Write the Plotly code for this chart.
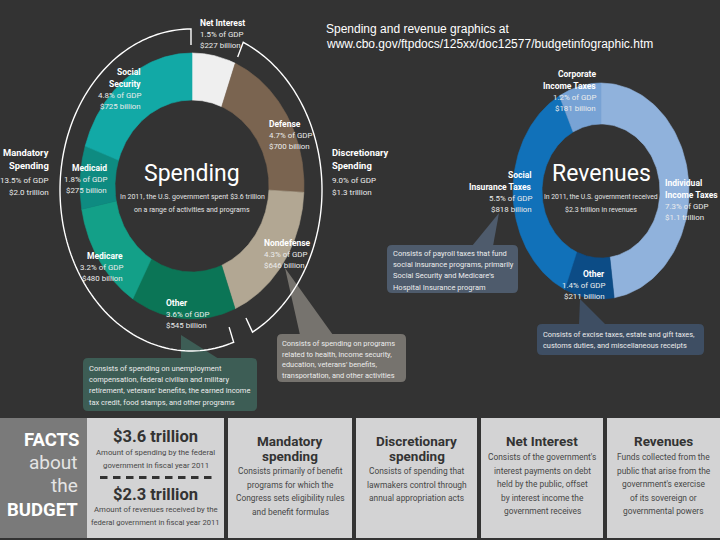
import numpy as np
import plotly.graph_objects as go

# ---------------- data ----------------
spend_labels = ["Net Interest", "Defense", "Nondefense", "Other", "Medicare", "Medicaid", "Social Security"]
spend_values = [227, 700, 646, 545, 480, 275, 725]          # $ billions, FY2011
spend_gdp = [1.5, 4.7, 4.3, 3.6, 3.2, 1.8, 4.8]             # % of GDP
spend_group = ["Net Interest", "Discretionary", "Discretionary", "Mandatory", "Mandatory", "Mandatory", "Mandatory"]

group_labels = ["Mandatory", "Discretionary"]
group_gdp = [13.5, 9.0]

rev_labels = ["Individual Income Taxes", "Other", "Social Insurance Taxes", "Corporate Income Taxes"]
rev_values = [1100, 211, 818, 181]                           # $ billions, FY2011
rev_gdp = [7.3, 1.4, 5.5, 1.2]

# ---------------- styles ----------------
BG = "#333333"
NARROW = "Roboto, Liberation Sans, Arial, sans-serif"
SANS = "Liberation Sans, Arial, Helvetica, sans-serif"
spend_colors = ["#efefef", "#7a6450", "#b2a793", "#0b7556", "#13a088", "#0e8b81", "#12a9a6"]
rev_colors = ["#90b2dc", "#0c4c86", "#1171b9", "#78a3d5"]

fig = go.Figure()


def money(v):
    return f"${v / 1000:.1f} trillion" if v >= 1000 else f"${v:,} billion"


def arc(cx, cy, rx, ry, t1, t2, n=90):
    t = np.radians(np.linspace(t1, t2, n))
    return cx + rx * np.sin(t), cy - ry * np.cos(t)


def add_donut(labels, values, gdp, colors, cx, cy, rxo, ryo, rxi, ryi):
    total = float(sum(values))
    cum = np.concatenate([[0.0], np.cumsum(values)]) / total * 360.0
    for i, (lab, v, g, c) in enumerate(zip(labels, values, gdp, colors)):
        xo, yo = arc(cx, cy, rxo, ryo, cum[i], cum[i + 1])
        xi, yi = arc(cx, cy, rxi, ryi, cum[i + 1], cum[i])
        x = np.concatenate([xo, xi, xo[:1]])
        y = np.concatenate([yo, yi, yo[:1]])
        fig.add_trace(go.Scatter(
            x=x, y=y, mode="lines", fill="toself", fillcolor=c,
            line=dict(color=c, width=0.6), hoveron="fills",
            text=f"{lab}: {money(v)} ({g}% of GDP)", hoverinfo="text",
            name=lab, showlegend=False))
    return cum


def txt(x, y, s, size, color="#ffffff", bold=False, anchor="left", family=NARROW):
    fig.add_annotation(x=x, y=y, xref="x", yref="y",
                       text=f"<b>{s}</b>" if bold else s, showarrow=False,
                       xanchor=anchor, yanchor="middle", borderpad=0,
                       font=dict(size=size, color=color, family=family))


def block(x, y0, title_lines, value_lines, anchor, tsize=8.5, vsize=7.9, step=11):
    y = y0
    for t in title_lines:
        txt(x, y, t, tsize, bold=True, anchor=anchor)
        y += step + 0.5
    for t in value_lines:
        txt(x, y, t, vsize, color="#ececec", anchor=anchor)
        y += step


def rrect_path(x0, y0, x1, y1, r):
    return (f"M{x0 + r},{y0} L{x1 - r},{y0} Q{x1},{y0} {x1},{y0 + r} "
            f"L{x1},{y1 - r} Q{x1},{y1} {x1 - r},{y1} L{x0 + r},{y1} "
            f"Q{x0},{y1} {x0},{y1 - r} L{x0},{y0 + r} Q{x0},{y0} {x0 + r},{y0} Z")


def callout(box, tri, color, lines, tx, ty0, step=11.3, size=7.3):
    x0, y0, x1, y1 = box
    fig.add_shape(type="path", path=rrect_path(x0, y0, x1, y1, 5),
                  fillcolor=color, line=dict(width=0), xref="x", yref="y")
    (ax, ay), (bx, by), (cx_, cy_) = tri
    fig.add_shape(type="path", path=f"M{ax},{ay} L{bx},{by} L{cx_},{cy_} Z",
                  fillcolor=color, line=dict(width=0), xref="x", yref="y")
    for k, s in enumerate(lines):
        txt(tx, ty0 + k * step, s, size, color="#ececec")


# ---------------- donuts ----------------
SCX, SCY = 192, 186
scum = add_donut(spend_labels, spend_values, spend_gdp, spend_colors, SCX, SCY, 112, 133, 77, 86)
RCX, RCY = 601, 191
rcum = add_donut(rev_labels, rev_values, rev_gdp, rev_colors, RCX, RCY, 88, 108, 59, 67)

# ---------------- callouts ----------------
callout((83, 358, 257, 411), ((181, 335), (181, 359), (219, 359)), "#3d5d55",
        ["Consists of spending on unemployment",
         "compensation, federal civilian and military",
         "retirement, veterans' benefits, the earned income",
         "tax credit, food stamps, and other programs"], 88, 368, step=11.4, size=7.5)
callout((277, 334, 406, 382), ((285, 268), (300, 335), (333, 335)), "#76736e",
        ["Consists of spending on programs",
         "related to health, income security,",
         "education, veterans' benefits,",
         "transportation, and other activities"], 281, 343.5, step=10.7, size=7.4)
callout((387, 245, 518, 293), ((499, 213), (472, 246), (493, 246)), "#4e5b6c",
        ["Consists of payroll taxes that fund",
         "social insurance programs, primarily",
         "Social Security and Medicare's",
         "Hospital Insurance program"], 392, 253.5, step=11.2, size=7.5)
callout((537, 324, 704, 355), ((580, 299), (579, 325), (606, 325)), "#3e4e63",
        ["Consists of excise taxes, estate and gift taxes,",
         "customs duties, and miscellaneous receipts"], 542, 334, step=11, size=7.4)

# ---------------- brackets (angles from the spending data) ----------------
BCX, BCY, BRX, BRY = 191, 190, 131, 161


def bracket(t1, t2):
    xs, ys = arc(BCX, BCY, BRX, BRY, t1, t2, 120)
    ax, ay = arc(BCX, BCY, BRX - 14, BRY - 16, t1, t1, 1)
    bx, by = arc(BCX, BCY, BRX - 14, BRY - 16, t2, t2, 1)
    pts = [(ax[0], ay[0])] + list(zip(xs, ys)) + [(bx[0], by[0])]
    path = "M" + " L".join(f"{px:.2f},{py:.2f}" for px, py in pts)
    fig.add_shape(type="path", path=path, line=dict(color="#ffffff", width=1.4),
                  xref="x", yref="y")


disc_start = scum[1]      # end of Net Interest
mand_start = scum[3]      # end of discretionary (Nondefense)
bracket(mand_start + 3.6, 360.0)
bracket(disc_start + 0.8, mand_start - 5.4)

# ---------------- donut labels ----------------
title_lines = {"Social Security": ["Social", "Security"],
               "Corporate Income Taxes": ["Corporate", "Income Taxes"],
               "Social Insurance Taxes": ["Social", "Insurance Taxes"],
               "Individual Income Taxes": ["Individual", "Income Taxes"]}
spend_pos = {"Net Interest": (199, 23, "left"), "Defense": (268, 124, "left"),
             "Nondefense": (263, 243, "left"), "Other": (165, 303, "left"),
             "Medicare": (124, 256, "right"), "Medicaid": (108, 168, "right"),
             "Social Security": (142, 72, "right")}
for lab, v, g in zip(spend_labels, spend_values, spend_gdp):
    x, y, a = spend_pos[lab]
    block(x, y, title_lines.get(lab, [lab]), [f"{g}% of GDP", money(v)], a)

rev_pos = {"Individual Income Taxes": (664, 183, "left"), "Other": (606, 274, "right"),
           "Social Insurance Taxes": (533, 175, "right"),
           "Corporate Income Taxes": (597, 74, "right")}
for lab, v, g in zip(rev_labels, rev_values, rev_gdp):
    x, y, a = rev_pos[lab]
    block(x, y, title_lines.get(lab, [lab]), [f"{g}% of GDP", money(v)], a)

group_pos = {"Mandatory": (50, "right"), "Discretionary": (331, "left")}
for gl, gg in zip(group_labels, group_gdp):
    tot = sum(v for v, grp in zip(spend_values, spend_group) if grp == gl)
    x, a = group_pos[gl]
    txt(x, 152, gl, 9.4, bold=True, anchor=a)
    txt(x, 165, "Spending", 9.4, bold=True, anchor=a)
    txt(x, 180, f"{gg}% of GDP", 8, color="#ececec", anchor=a)
    txt(x, 192, money(tot), 8, color="#ececec", anchor=a)

spend_total = sum(spend_values)
rev_total = sum(rev_values)
txt(SCX, 173, "Spending", 23, anchor="center")
txt(SCX, 197, f"In 2011, the U.S. government spent {money(spend_total)}", 7, color="#e6e6e6", anchor="center")
txt(SCX, 210, "on a range of activities and programs", 7, color="#e6e6e6", anchor="center")
txt(RCX, 173, "Revenues", 23, anchor="center")
txt(RCX, 197, "In 2011, the U.S. government received", 6.8, color="#e6e6e6", anchor="center")
txt(RCX, 210, f"{money(rev_total)} in revenues", 7, color="#e6e6e6", anchor="center")

# source text
txt(325, 29, "Spending and revenue graphics at", 12, family=SANS)
txt(325, 44, "www.cbo.gov/ftpdocs/125xx/doc12577/budgetinfographic.htm", 12, family=SANS)

# ---------------- bottom "facts" panel ----------------
PY0, PY1 = 418, 538
fig.add_shape(type="rect", x0=0, x1=87, y0=PY0, y1=PY1, fillcolor="#7a7a7a", line=dict(width=0))
boxes = [(87, 224), (228, 352), (356, 477), (481, 603), (607, 720)]
for x0, x1 in boxes:
    fig.add_shape(type="rect", x0=x0, x1=x1, y0=PY0, y1=PY1, fillcolor="#d3d3d4", line=dict(width=0))

txt(80, 440, "FACTS", 18.5, bold=True, anchor="right")
txt(79, 462, "about", 19, color="#e4e4e4", anchor="right")
txt(79, 485, "the", 19, color="#e4e4e4", anchor="right")
txt(79, 510, "BUDGET", 18.5, bold=True, anchor="right")

DARK = "#333333"
BODY = "#474747"
c1 = (87 + 224) / 2
txt(c1, 436, money(spend_total), 16.5, color=DARK, bold=True, anchor="center")
txt(c1, 452, "Amount of spending by the federal", 7.8, color=BODY, anchor="center")
txt(c1, 465, "government in fiscal year 2011", 7.8, color=BODY, anchor="center")
fig.add_shape(type="line", x0=100, x1=215, y0=477.5, y1=477.5,
              line=dict(color=DARK, width=3, dash="7.5px,5.5px"))
txt(c1, 494, money(rev_total), 16.5, color=DARK, bold=True, anchor="center")
txt(c1, 509, "Amount of revenues received by the", 7.8, color=BODY, anchor="center")
txt(c1, 522, "federal government in fiscal year 2011", 7.6, color=BODY, anchor="center")

facts = [
    (["Mandatory", "spending"], ["Consists primarily of benefit", "programs for which the",
                                 "Congress sets eligibility rules", "and benefit formulas"]),
    (["Discretionary", "spending"], ["Consists of spending that", "lawmakers control through",
                                     "annual appropriation acts"]),
    (["Net Interest"], ["Consists of the government's", "interest payments on debt",
                        "held by the public, offset", "by interest income the",
                        "government receives"]),
    (["Revenues"], ["Funds collected from the", "public that arise from the",
                    "government's exercise", "of its sovereign or", "governmental powers"]),
]
for (x0, x1), (heads, body) in zip(boxes[1:], facts):
    cx = (x0 + x1) / 2
    y = 440.5
    for h in heads:
        txt(cx, y, h, 13.5, color=DARK, bold=True, anchor="center")
        y += 15
    y = 471 if len(heads) == 2 else 457
    for b in body:
        txt(cx, y, b, 8.4, color=BODY, anchor="center")
        y += 13.6

# ---------------- layout ----------------
fig.update_layout(
    width=720, height=540, margin=dict(l=0, r=0, t=0, b=0),
    paper_bgcolor=BG, plot_bgcolor=BG, showlegend=False,
    xaxis=dict(range=[0, 720], visible=False, fixedrange=True),
    yaxis=dict(range=[540, 0], visible=False, fixedrange=True),
    hovermode="closest",
)
fig.write_html("out.html", config={"displayModeBar": False},
               post_script="document.body.style.margin='0px';")
